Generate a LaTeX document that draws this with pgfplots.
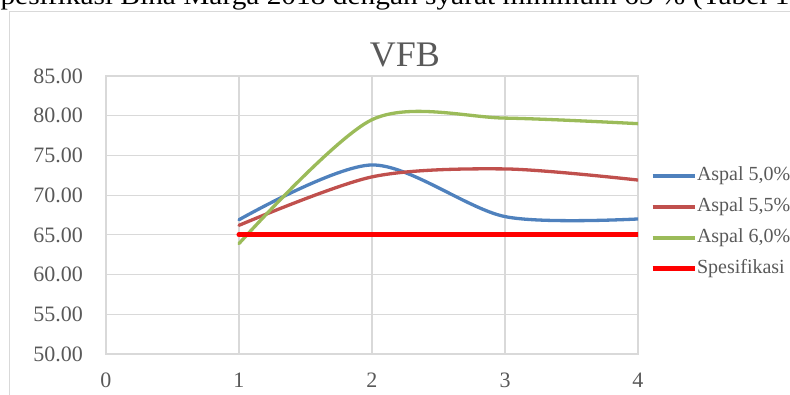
\documentclass[border=0pt]{standalone}
\usepackage{pgfplots}
\pgfplotsset{compat=1.18}
\usepackage{fontspec}
\setmainfont{Liberation Serif}
\definecolor{txt}{HTML}{595959}
\definecolor{gridc}{HTML}{D9D9D9}
\definecolor{sA}{HTML}{4F81BD}
\definecolor{sB}{HTML}{C0504D}
\definecolor{sC}{HTML}{9BBB59}

\begin{document}
\begin{tikzpicture}[x=1pt,y=1pt]
\useasboundingbox (0,0) rectangle (790,394);
\clip (0,0) rectangle (790,394);
% running text above the chart frame
\node[anchor=base west, inner sep=0pt, font=\fontsize{26}{30}\selectfont] at (-16,389)
  {\scalebox{1.13}[1]{Spesifikasi Bina Marga 2018 dengan syarat minimum 65 \% (Tabel 1)}};
% chart frame
\draw[gridc, line width=1.2pt] (9.5,-10) -- (9.5,382.5) -- (800,382.5);
\node[txt, font=\fontsize{36}{40}\selectfont, anchor=base, inner sep=0pt] at (405,327) {VFB};
\begin{axis}[
  at={(106pt,40pt)}, anchor=south west, scale only axis,
  width=532pt, height=278pt,
  xmin=0, xmax=4, ymin=50, ymax=85,
  xtick={0,1,2,3,4}, ytick={50,55,...,85},
  grid=major, major grid style={gridc, line width=1.2pt},
  axis line style={gridc, line width=1.2pt},
  tick style={draw=none},
  ticklabel style={txt, font=\fontsize{22}{26}\selectfont, inner sep=0pt,
    /pgf/number format/assume math mode=true},
  yticklabel style={anchor=east, xshift=-23pt,
    /pgf/number format/.cd, fixed, fixed zerofill, precision=2},
  xticklabel style={anchor=north, yshift=-19pt},
  legend cell align=left,
  legend image code/.code={\draw[#1, line cap=butt] (0pt,0pt) -- (42pt,0pt);},
  legend style={at={(rel axis cs:1.0226,0.6727)}, anchor=north west,
    draw=none, fill=none, inner sep=0pt, outer sep=0pt,
    font=\fontsize{20}{24}\selectfont\color{txt}, row sep=13pt,
    nodes={inner sep=0pt, text height=14pt, text depth=4pt},
    /tikz/every even column/.append style={column sep=5pt}},
]
\addplot[sA, line width=3.3pt, smooth, tension=0.5, line cap=round] coordinates {(1,66.9) (2,73.8) (3,67.3) (4,67.0)};
\addlegendentry{Aspal 5,0\%}
\addplot[sB, line width=3.3pt, smooth, tension=0.5, line cap=round] coordinates {(1,66.2) (2,72.3) (3,73.3) (4,71.9)};
\addlegendentry{Aspal 5,5\%}
\addplot[sC, line width=3.3pt, smooth, tension=0.5, line cap=round] coordinates {(1,63.9) (2,79.5) (3,79.7) (4,79.0)};
\addlegendentry{Aspal 6,0\%}
\addplot[red, line width=5pt, line cap=round] coordinates {(1,65) (2,65) (3,65) (4,65)};
\addlegendentry{Spesifikasi}
\end{axis}
\end{tikzpicture}
\end{document}
